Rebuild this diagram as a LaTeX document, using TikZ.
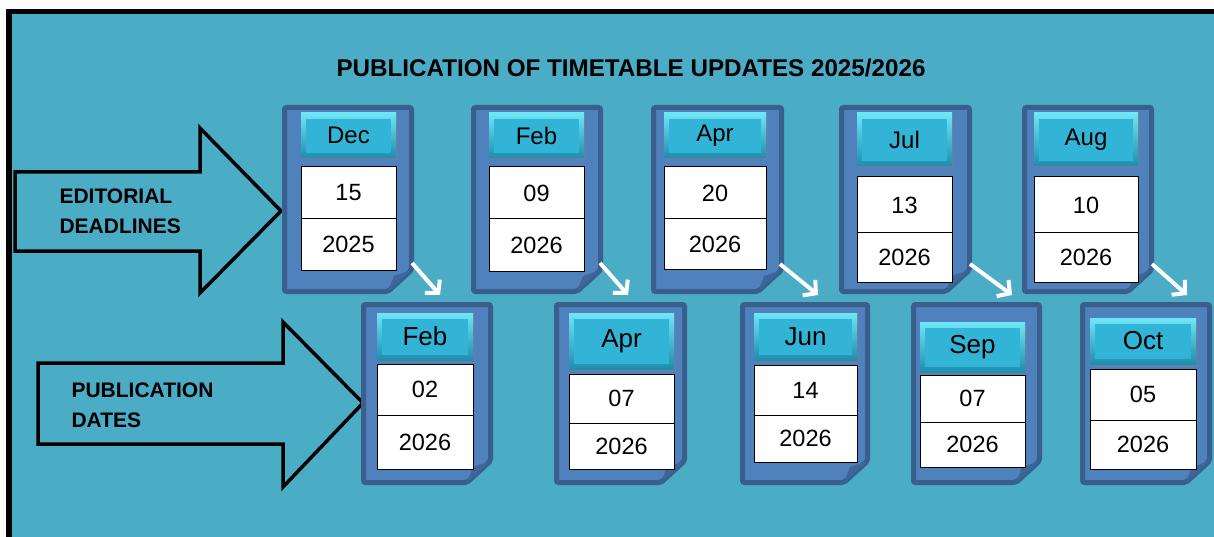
\documentclass[tikz,border=0pt]{standalone}
\usepackage{fontspec}
\setmainfont{Liberation Sans}
\usetikzlibrary{arrows.meta,shadows}

\definecolor{bgteal}{HTML}{4BACC6}
\definecolor{cardblue}{HTML}{4F81BD}
\definecolor{cardedge}{HTML}{3A5F8C}
\definecolor{folddark}{HTML}{3D6699}
\definecolor{btnhi}{HTML}{6FE6F8}
\definecolor{btnlo}{HTML}{1F8DAE}
\definecolor{btnface}{HTML}{31B4D5}

\tikzset{
  card/.style={fill=cardblue, draw=cardedge, line width=5pt, rounded corners=2pt},
  fold/.style={fill=folddark},
  monthbtn/.style={rectangle, inner sep=0pt, top color=btnhi, bottom color=btnlo,
    drop shadow={shadow xshift=1.5pt, shadow yshift=-2.5pt, opacity=.35},
    path picture={\fill[btnface]
      ([xshift=5pt,yshift=-6pt]path picture bounding box.north west) --
      ([xshift=-5pt,yshift=-6pt]path picture bounding box.north east) --
      ([xshift=-5pt,yshift=5pt]path picture bounding box.south east) --
      ([xshift=5pt,yshift=5pt]path picture bounding box.south west) -- cycle;}},
  datebox/.style={draw=black, fill=white, line width=1pt, inner sep=0pt,
    font=\fontsize{23.5}{27}\selectfont},
  blockarrow/.style={draw=black, line width=3.5pt, miter limit=10},
  flowarrow/.style={draw=white, line width=4pt, -{Straight Barb[length=9pt,width=20pt]}},
  rowlabel/.style={font=\bfseries\fontsize{21}{30}\selectfont, align=left, anchor=west},
  titletext/.style={font=\bfseries\fontsize{24.2}{28}\selectfont},
}

\begin{document}
\begin{tikzpicture}[x=1pt, y=-1pt]
    \clip (0,0) rectangle (1214,537);
    % Frame
    \fill[white] (0,0) rectangle (1214,537);
    \fill[black] (6,9) rectangle (1230,550);
    \fill[bgteal] (12,14) rectangle (1230,550);

    % Title
    \node[titletext] (title) at (631,68) {PUBLICATION OF TIMETABLE UPDATES 2025/2026};

    % Block arrows
    \draw[blockarrow] (15,172) -- (200,172) -- (200,128) -- (281,211) -- (200,293) -- (200,251) -- (15,251) -- cycle;
    \node[rowlabel] (edlabel) at (56,211) {EDITORIAL\\DEADLINES};
    \draw[blockarrow] (38,363) -- (283,363) -- (283,322) -- (363,403) -- (283,487) -- (283,444) -- (38,444) -- cycle;
    \node[rowlabel] (pdlabel) at (68,405) {PUBLICATION\\DATES};

    % Cards: top row = editorial deadlines, bottom row = publication dates
    \foreach \yt/\yb/\ms/\row in {105/294/24/{ed1/282/414/301/396/113/158/167/219/270/Dec/15/2025,
        ed2/471/603/489/584/113/158/167/219/271/Feb/09/2026,
        ed3/651/784/664/766/113/158/167/219/269/Apr/20/2026,
        ed4/839/972/857/952/113/166/177/233/282/Jul/13/2026,
        ed5/1022/1154/1034/1138/113/166/177/233/282/Aug/10/2026},
      302/485/26/{pd1/361/493/377/473/313/360/364/415/469/Feb/02/2026,
        pd2/554/687/569/674/313/369/374/423/469/Apr/07/2026,
        pd3/740/870/754/857/313/360/365/415/462/Jun/14/2026,
        pd4/911/1042/920/1025/322/372/375/422/467/Sep/07/2026,
        pd5/1080/1212/1090/1196/318/364/369/420/469/Oct/05/2026}} {
      \foreach \nm/\xl/\xr/\il/\ir/\bt/\bb/\dt/\dm/\db/\mon/\dd/\yr in \row {
        \draw[card] (\xl+2.5,\yt+2.5) -- (\xr-2.5,\yt+2.5) -- (\xr-2.5,\yb-24)
          -- (\xr-26,\yb-2.5) -- (\xl+2.5,\yb-2.5) -- cycle;
        \fill[fold] (\xr-2.5,\yb-24) -- (\xr-26,\yb-2.5) -- (\xr-20,\yb-18) -- cycle;
        \pgfmathsetmacro\bw{\ir-\il}
        \node[monthbtn, minimum width=\bw pt, minimum height={(\bb-\bt)*1pt},
          font=\fontsize{\ms}{\ms}\selectfont] (\nm-m) at ({(\il+\ir)/2},{(\bt+\bb)/2}) {\mon};
        \node[datebox, minimum width=\bw pt, minimum height={(\dm-\dt)*1pt}]
          (\nm-d) at ({(\il+\ir)/2},{(\dt+\dm)/2}) {\dd};
        \node[datebox, minimum width=\bw pt, minimum height={(\db-\dm)*1pt}]
          (\nm-y) at ({(\il+\ir)/2},{(\dm+\db)/2}) {\yr};
      }
    }

    % Deadline -> publication
    \foreach \i/\sx/\sy/\ex/\ey in {1/412/263/440/295, 2/600/263/628/295,
        3/780/264/818/295, 4/970/264/1012/295, 5/1152/264/1187/295} {
      \coordinate (ed\i-out) at (\sx,\sy);
      \coordinate (pd\i-in) at (\ex,\ey);
      \draw[flowarrow] (ed\i-out) -- (pd\i-in);
    }
\end{tikzpicture}
\end{document}
